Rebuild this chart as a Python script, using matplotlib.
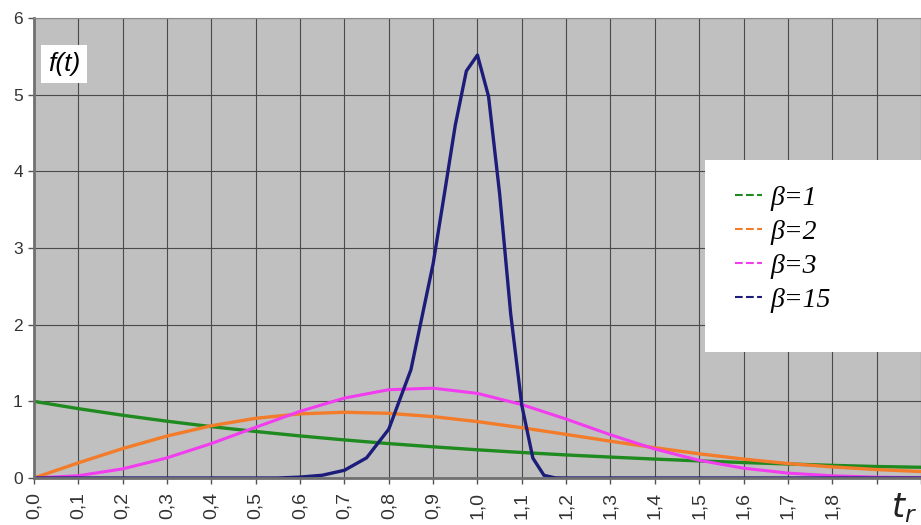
import numpy as np
import matplotlib.pyplot as plt
from matplotlib.lines import Line2D
from matplotlib.patches import Rectangle

# valores
t = [0.0, 0.1, 0.2, 0.3, 0.4, 0.5, 0.6, 0.7, 0.8, 0.9, 1.0,
     1.1, 1.2, 1.3, 1.4, 1.5, 1.6, 1.7, 1.8, 1.9, 2.0]
f_b1 = [1.0, 0.905, 0.819, 0.741, 0.670, 0.607, 0.549, 0.497, 0.449, 0.407, 0.368,
        0.333, 0.301, 0.273, 0.247, 0.223, 0.202, 0.183, 0.165, 0.150, 0.140]
f_b2 = [0.0, 0.198, 0.384, 0.548, 0.682, 0.779, 0.837, 0.858, 0.844, 0.801, 0.736,
        0.656, 0.569, 0.480, 0.395, 0.316, 0.247, 0.189, 0.145, 0.110, 0.085]
f_b3 = [0.0, 0.030, 0.119, 0.263, 0.450, 0.662, 0.870, 1.043, 1.152, 1.172, 1.104,
        0.958, 0.769, 0.564, 0.378, 0.231, 0.128, 0.064, 0.029, 0.011, 0.004]

t15 = [0.0, 0.55, 0.6, 0.65, 0.7, 0.75, 0.8, 0.85, 0.9, 0.925, 0.95, 0.975, 1.0,
       1.025, 1.05, 1.075, 1.1, 1.125, 1.15, 1.175, 1.2, 2.0]
f_b15 = [0.0, 0.0, 0.012, 0.036, 0.101, 0.263, 0.637, 1.413, 2.794, 3.691, 4.603, 5.310, 5.518,
         4.98, 3.71, 2.14, 0.95, 0.26, 0.035, 0.002, 0.0, 0.0]

labels = ['β=1', 'β=2', 'β=3', 'β=15']
colors = ['#1f8a1f', '#f27c2a', '#f23cf0', '#1c1c7a']

xticks = np.round(np.arange(0, 2.01, 0.1), 1)
xticklabels = [('%.1f' % v).replace('.', ',') if v <= 1.8 else '' for v in xticks]

fig = plt.figure(figsize=(9.21, 5.25), dpi=100)
ax = fig.add_axes([0.0369, 0.0895, 0.963, 0.876])
ax.set_facecolor('#c0c0c0')

ax.plot(t, f_b1, color=colors[0], lw=2.4)
ax.plot(t, f_b2, color=colors[1], lw=2.4)
ax.plot(t, f_b3, color=colors[2], lw=2.2)
ax.plot(t15, f_b15, color=colors[3], lw=2.4)

ax.set_xlim(0, 2.0)
ax.set_ylim(0, 6)
ax.set_xticks(xticks)
ax.set_xticklabels(xticklabels, rotation=90, fontsize=14, family='Liberation Sans', color='#333333')
ax.set_yticks(range(7))
ax.set_yticklabels([str(i) for i in range(7)], fontsize=12.5, family='Liberation Sans', color='#333333')
ax.tick_params(axis='both', length=4, width=1, color='#555555', pad=4)
ax.tick_params(axis='x', pad=6)
ax.grid(True, color='#4a4a4a', lw=0.8)

for s in ['left', 'bottom']:
    ax.spines[s].set_color('#707070')
    ax.spines[s].set_linewidth(2)
ax.spines['top'].set_color('#8a8a8a')
ax.spines['right'].set_visible(False)

# etiqueta f(t)
ax.text(0.016, 0.9, 'f(t)', transform=ax.transAxes, fontsize=19, style='italic',
        family='Liberation Sans', va='center', ha='left',
        bbox=dict(facecolor='white', edgecolor='none', pad=5))

# etiqueta t_r
fig.text(0.982, 0.0, '$t_r$', fontsize=24, ha='center', va='bottom', color='#222222')

# caja blanca de la leyenda
ax.add_patch(Rectangle((0.7565, 0.274), 0.26, 0.417, transform=ax.transAxes,
                       facecolor='white', edgecolor='none', zorder=4, clip_on=False))
handles = [Line2D([], [], color=c, lw=1.5, ls='--') for c in colors]
leg = ax.legend(handles, labels, loc='upper left', bbox_to_anchor=(0.79, 0.637),
                prop={'family': 'Liberation Serif', 'style': 'italic', 'size': 20},
                frameon=False, borderpad=0, labelspacing=0.31,
                handlelength=1.0, handletextpad=0.3, borderaxespad=0)
leg.set_zorder(5)

fig.savefig('out.png', dpi=100)
